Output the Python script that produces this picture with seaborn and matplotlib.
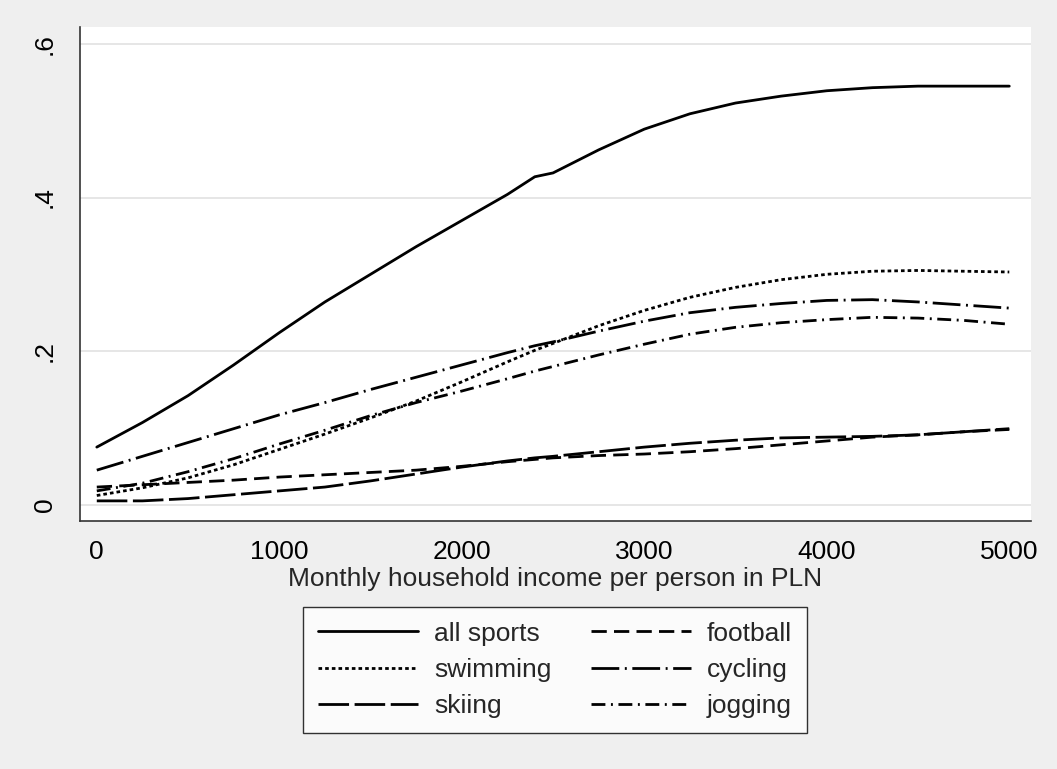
import matplotlib
matplotlib.use("Agg")
import matplotlib.pyplot as plt
import pandas as pd
import seaborn as sns

# income grid (PLN) and smoothed participation shares
income = [0, 250, 500, 750, 1000, 1250, 1500, 1750, 2000, 2250, 2400, 2500,
          2750, 3000, 3250, 3500, 3750, 4000, 4250, 4500, 4750, 5000]

all_sports = [0.075, 0.107, 0.142, 0.182, 0.224, 0.264, 0.300, 0.336, 0.370, 0.404, 0.427, 0.432,
              0.462, 0.489, 0.509, 0.523, 0.532, 0.539, 0.543, 0.545, 0.545, 0.545]
football = [0.023, 0.026, 0.029, 0.032, 0.036, 0.039, 0.042, 0.045, 0.050, 0.056, 0.059, 0.061,
            0.064, 0.066, 0.069, 0.073, 0.078, 0.083, 0.088, 0.091, 0.095, 0.098]
swimming = [0.012, 0.022, 0.035, 0.052, 0.072, 0.092, 0.113, 0.135, 0.160, 0.186, 0.201, 0.210,
            0.233, 0.253, 0.270, 0.283, 0.293, 0.300, 0.304, 0.305, 0.304, 0.303]
cycling = [0.045, 0.063, 0.081, 0.099, 0.117, 0.133, 0.150, 0.166, 0.182, 0.198, 0.207, 0.212,
           0.226, 0.239, 0.250, 0.257, 0.262, 0.266, 0.267, 0.264, 0.260, 0.256]
skiing = [0.005, 0.005, 0.008, 0.013, 0.018, 0.023, 0.031, 0.040, 0.049, 0.057, 0.061, 0.063,
          0.069, 0.075, 0.080, 0.084, 0.087, 0.088, 0.089, 0.091, 0.095, 0.099]
jogging = [0.018, 0.028, 0.043, 0.060, 0.079, 0.097, 0.116, 0.133, 0.148, 0.164, 0.174, 0.180,
           0.195, 0.209, 0.222, 0.231, 0.237, 0.241, 0.244, 0.243, 0.240, 0.235]

# legend order: column-major -> rows read "all sports / football", ...
sports = ["all sports", "swimming", "skiing", "football", "cycling", "jogging"]
series = {"all sports": all_sports, "swimming": swimming, "skiing": skiing,
          "football": football, "cycling": cycling, "jogging": jogging}

dash_map = {
    "all sports": "",
    "football": (5.5, 2.6),
    "swimming": (1.3, 1.1),
    "cycling": (10, 2, 0.7, 2),
    "skiing": (11, 2),
    "jogging": (5, 2, 0.7, 2),
}

df = pd.concat(
    [pd.DataFrame({"income": income, "share": series[s], "sport": s}) for s in sports],
    ignore_index=True,
)

sns.set_style("white")
plt.rcParams["font.family"] = ["Liberation Sans", "DejaVu Sans"]
FS = 19

bg = "#efefef"
fig = plt.figure(figsize=(10.57, 7.69), dpi=100, facecolor=bg)
ax = fig.add_axes([80 / 1057, 1 - 521 / 769, (1031 - 80) / 1057, (521 - 27) / 769])
ax.set_facecolor("white")

sns.lineplot(data=df, x="income", y="share", style="sport", style_order=sports,
             dashes=dash_map, color="black", linewidth=2.0, ax=ax, sort=False)

ax.set_xlim(-92, 5119)
ax.set_ylim(-0.0212, 0.622)
ax.set_xticks([0, 1000, 2000, 3000, 4000, 5000])
ax.set_yticks([0, 0.2, 0.4, 0.6])
ax.set_yticklabels(["0", ".2", ".4", ".6"], rotation=90, va="center")
ax.set_xlabel("Monthly household income per person in PLN", fontsize=FS, labelpad=2)
ax.set_ylabel("")

for y in [0, 0.2, 0.4, 0.6]:
    ax.axhline(y, color="#e6e6e6", lw=1.4, zorder=0)

for side in ["top", "right"]:
    ax.spines[side].set_visible(False)
for side in ["left", "bottom"]:
    ax.spines[side].set_color("#333333")
    ax.spines[side].set_linewidth(1.2)
ax.tick_params(axis="both", direction="out", length=8.6, width=1.0, color="#333333",
               labelsize=FS, labelcolor="black")
ax.tick_params(axis="y", pad=8)
ax.tick_params(axis="x", pad=5)

handles, labels = ax.get_legend_handles_labels()
ax.get_legend().remove()
leg = fig.legend(handles, labels, ncol=2, loc="center",
                 bbox_to_anchor=(555 / 1057, 1 - 670 / 769),
                 fontsize=FS, frameon=True, fancybox=False, edgecolor="black",
                 handlelength=3.8, handletextpad=0.6, columnspacing=1.5,
                 labelspacing=0.47, borderpad=0.55)
leg.get_frame().set_linewidth(1.0)
leg.get_frame().set_facecolor("white")

fig.savefig("out.png", dpi=100, facecolor=bg)
